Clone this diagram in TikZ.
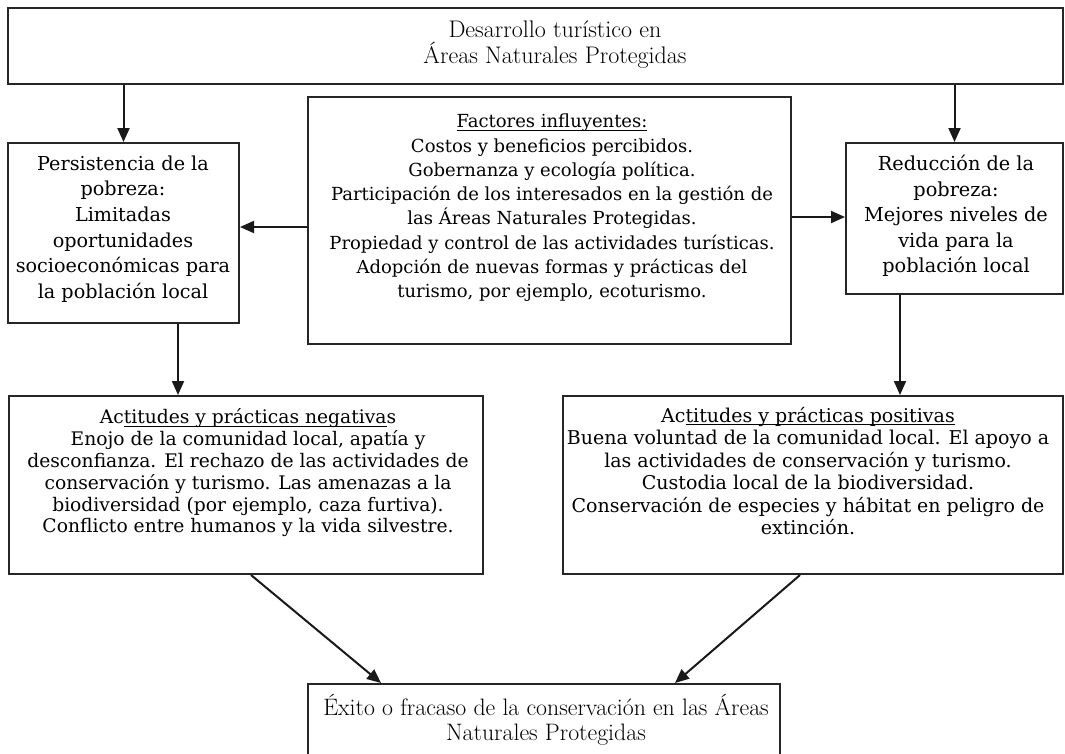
\documentclass[tikz,border=0pt]{standalone}
\usepackage{fontspec}
\newfontfamily\sch{DejaVu Serif}
\usetikzlibrary{arrows.meta,calc}
\newcommand\ulx[1]{\setbox0\hbox{#1}\rlap{\rule[-3pt]{\wd0}{1.2pt}}\box0}
\begin{document}
\begin{tikzpicture}[x=1pt,y=-1pt,
  box/.style={draw=black!85,line width=2pt,rectangle,inner sep=0pt},
  arr/.style={line width=2pt,draw=black!90,-{Triangle[length=14pt,width=12pt]}},
  txt/.style={align=center,inner sep=0pt,text=black}]
\useasboundingbox (0,0) rectangle (1065,753);
% boxes
\node[box,minimum width=1055pt,minimum height=76pt] (top) at (535.5,46) {};
\node[box,minimum width=231pt,minimum height=180pt] (left) at (123.5,233) {};
\node[box,minimum width=483pt,minimum height=247pt] (mid) at (549.5,220.5) {};
\node[box,minimum width=217pt,minimum height=151pt] (right) at (954.5,218.5) {};
\node[box,minimum width=474pt,minimum height=178pt] (neg) at (246,485) {};
\node[box,minimum width=500pt,minimum height=178pt] (pos) at (813,485) {};
\node[box,minimum width=472pt,minimum height=86pt] (bot) at (544,727) {};
% texts
\node[txt,font=\fontsize{24}{26}\selectfont] (topT) at (555,45)
  {Desarrollo turístico en\\Áreas Naturales Protegidas};
\node[txt,font=\sch\fontsize{19.2}{25.6}\selectfont] (leftT) at (123,229)
  {Persistencia de la\\pobreza:\\Limitadas\\oportunidades\\socioeconómicas para\\la población local};
\node[txt,font=\sch\fontsize{19.3}{25.5}\selectfont] (rightT) at (956,216)
  {Reducción de la\\pobreza:\\Mejores niveles de\\vida para la\\población local};
\node[txt,font=\sch\fontsize{18}{24.3}\selectfont] (midT) at (552,208)
  {\ulx{Factores influyentes:}\\Costos y beneficios percibidos.\\Gobernanza y ecología política.\\Participación de los interesados en la gestión de\\las Áreas Naturales Protegidas.\\Propiedad y control de las actividades turísticas.\\Adopción de nuevas formas y prácticas del\\turismo, por ejemplo, ecoturismo.};
\node[txt,font=\sch\fontsize{18.7}{21.8}\selectfont] (negT) at (248,473)
  {Ac\ulx{titudes y prácticas negativa}s\\Enojo de la comunidad local, apatía y\\desconfianza. El rechazo de las actividades de\\conservación y turismo. Las amenazas a la\\biodiversidad (por ejemplo, caza furtiva).\\Conflicto entre humanos y la vida silvestre.};
\node[txt,font=\sch\fontsize{19}{22.4}\selectfont] (posT) at (808,471)
  {Ac\ulx{titudes y prácticas positivas}\\Buena voluntad de la comunidad local. El apoyo a\\las actividades de conservación y turismo.\\Custodia local de la biodiversidad.\\Conservación de especies y hábitat en peligro de\\extinción.};
\node[txt,font=\fontsize{23.8}{25}\selectfont] (botT) at (546,720)
  {Éxito o fracaso de la conservación en las Áreas\\Naturales Protegidas};
% connectors
\draw[arr] (top.south -| left.north) -- (left.north);
\draw[arr] (top.south -| right.north) -- (right.north);
\draw[arr] (mid.west |- 0,227) -- (left.east |- 0,227);
\draw[arr] (mid.east |- 0,217) -- (right.west |- 0,217);
\draw[arr] (left.south -| 178,0) -- (neg.north -| 178,0);
\draw[arr] (right.south -| 900,0) -- (pos.north -| 900,0);
\draw[arr] (neg.south -| 251,0) -- (bot.north -| 381,0);
\draw[arr] (pos.south -| 800,0) -- (bot.north -| 675,0);
\end{tikzpicture}
\end{document}
